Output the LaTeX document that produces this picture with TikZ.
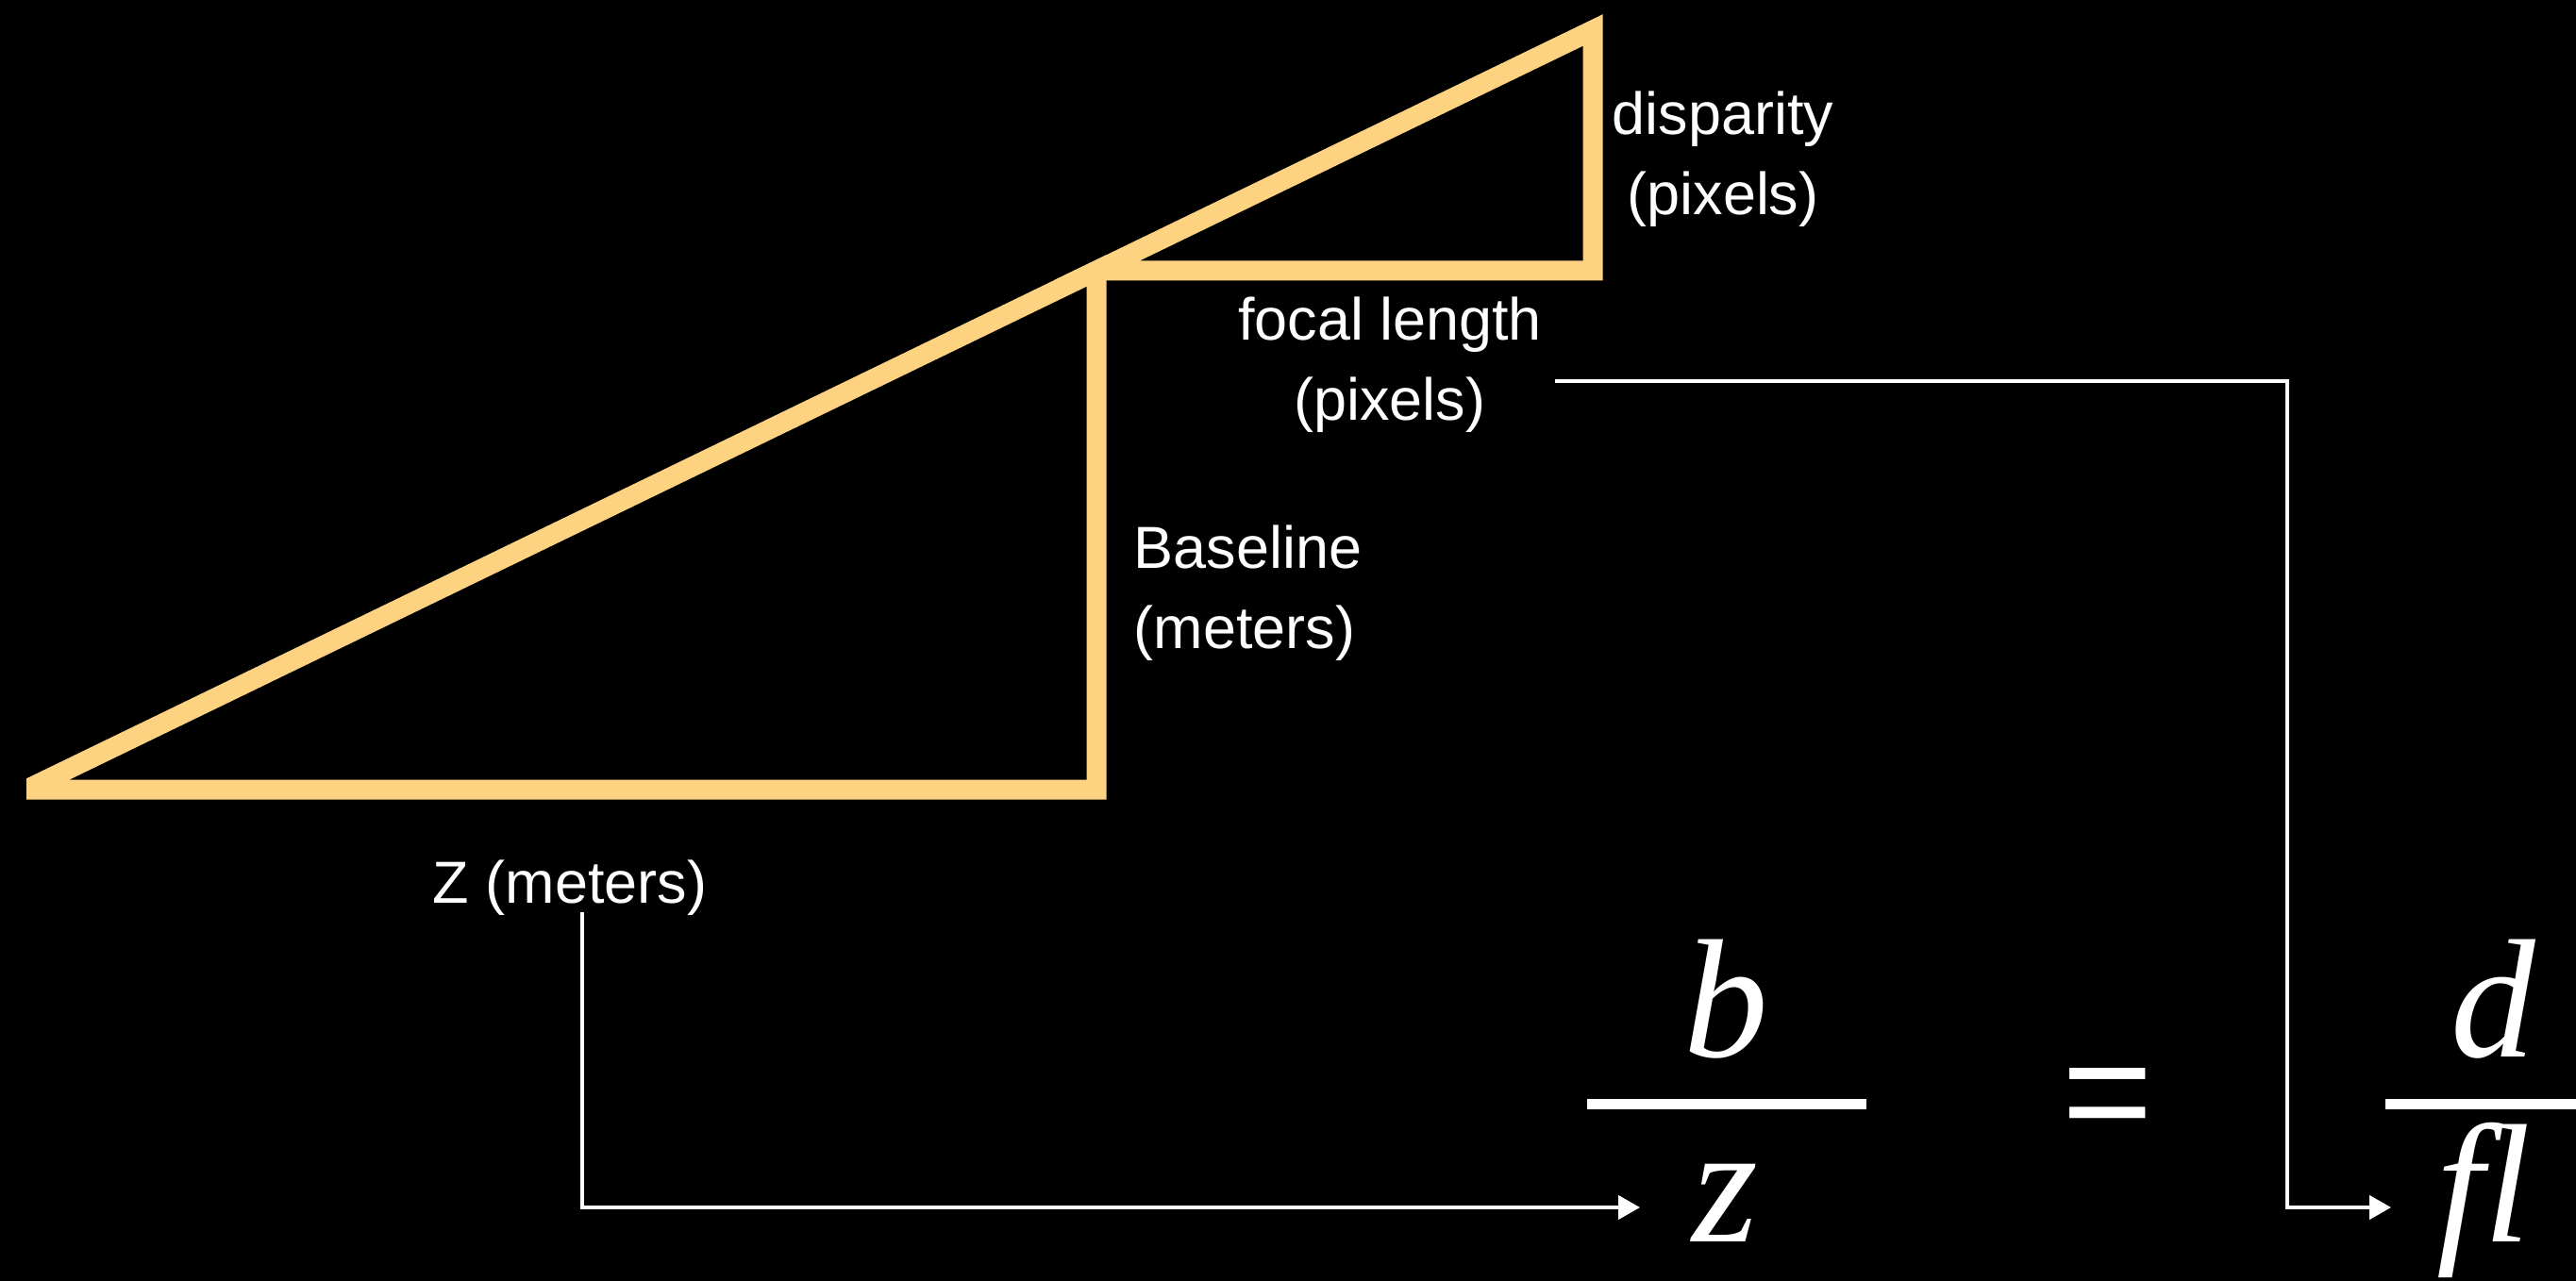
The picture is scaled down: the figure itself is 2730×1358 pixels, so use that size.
\documentclass[tikz,border=0pt]{standalone}
\usepackage{fontspec}
\setmainfont{Liberation Sans}
\newfontfamily\mathserif{Liberation Serif}
\newfontfamily\eqsans{Liberation Sans}
\usetikzlibrary{arrows.meta}
\definecolor{triorange}{RGB}{253,210,128}
\begin{document}
\begin{tikzpicture}[x=0.01cm,y=-0.01cm,
  tristroke/.style={draw=triorange, line width=5.97pt, line join=miter},
  lbl/.style={text=white, inner sep=0pt, font=\fontsize{17.9}{24.2}\selectfont},
  conn/.style={draw=white, line width=1.1pt, -{Triangle[length=6.5pt,width=7.1pt]}},
  mth/.style={text=white, inner sep=0pt, font=\mathserif\itshape\fontsize{51}{51}\selectfont},
  fracbar/.style={draw=white, line width=3.13pt}
]
\fill[black] (0,0) rectangle (2730,1358);
\useasboundingbox (0,0) rectangle (2730,1358);

\begin{scope}
\clip (28,0) rectangle (2730,1358);
\draw[tristroke] (28,837) coordinate (A) -- (1162,837) coordinate (B) -- (1162,287) coordinate (C) -- cycle;
\draw[tristroke] (C) -- (1688,287) coordinate (D) -- (1688,32) coordinate (E) -- cycle;
\end{scope}

\node[lbl, align=center] (disp) at (1826,168.5) {disparity\\(pixels)};
\node[lbl, align=center] (focal) at (1473,386.5) {focal length\\(pixels)};
\node[lbl, align=left, anchor=west] (base) at (1201,629) {Baseline\\(meters)};
\node[lbl, anchor=base] (zlab) at (604,957) {Z (meters)};

\node[mth, anchor=base] (b) at (1829,1120) {b};
\node[mth, anchor=base] (z) at (1828,1316) {z};
\node[mth, anchor=base] (d) at (2642,1120) {d};
\node[mth, anchor=base] (fl) at (2632,1316) {fl};
\node[text=white, inner sep=0pt, font=\eqsans\fontsize{47}{47}\selectfont] (eq) at (2234,1173) {=};

\coordinate (bar1l) at (1682,1170);
\coordinate (bar1r) at (1978,1170);
\coordinate (bar2l) at (2528,1170);
\coordinate (bar2r) at (2730,1170);
\draw[fracbar] (bar1l) -- (bar1r);
\draw[fracbar] (bar2l) -- (bar2r);

\coordinate (zs) at (617,967);
\coordinate (za) at (1738,1280);
\draw[conn] (zs) |- (za);
\coordinate (fs) at (1648,404);
\coordinate (fk) at (2424,404);
\coordinate (fa) at (2534,1280);
\draw[conn] (fs) -- (fk) |- (fa);
\end{tikzpicture}
\end{document}
